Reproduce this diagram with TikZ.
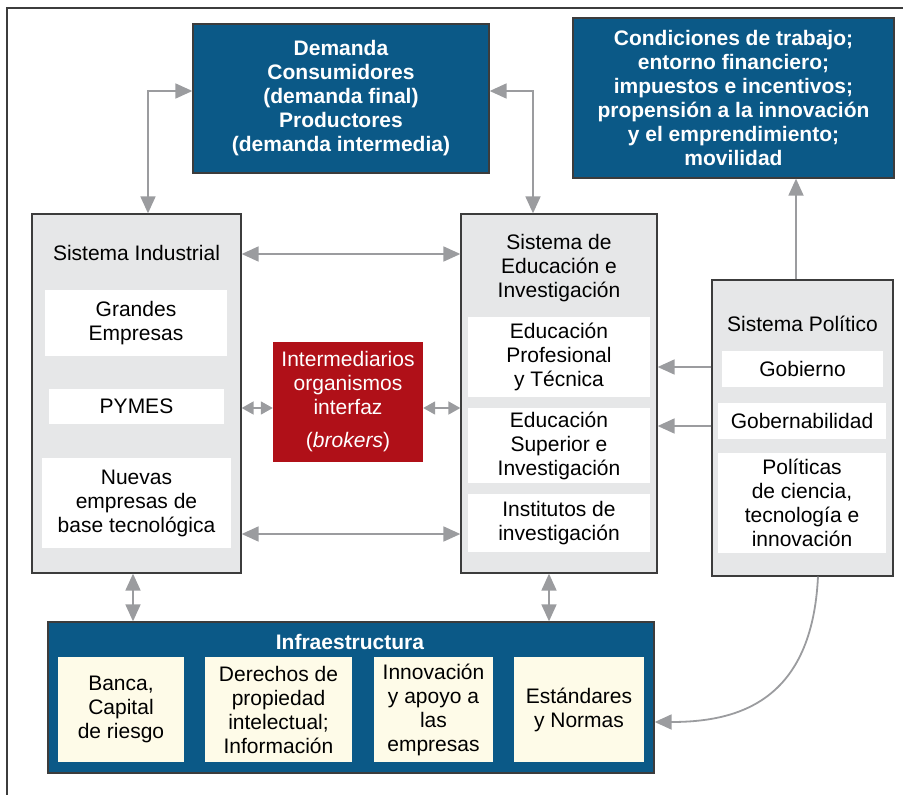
\documentclass[tikz,border=0pt]{standalone}
\usepackage{fontspec}
\setmainfont{Liberation Sans}
\usetikzlibrary{arrows.meta}
\definecolor{dblue}{RGB}{11,89,135}
\definecolor{dred}{RGB}{176,16,24}
\definecolor{sysgray}{RGB}{230,231,232}
\definecolor{cream}{RGB}{254,251,232}
\definecolor{arrc}{RGB}{155,156,159}
\definecolor{bordc}{RGB}{60,60,60}
\begin{document}
\begin{tikzpicture}[x=1pt,y=-1pt,
  every node/.style={font=\fontsize{21}{24}\selectfont, inner sep=0pt, align=center},
  sysbox/.style={draw=bordc, line width=1.3pt, fill=sysgray},
  bluebox/.style={draw=bordc, line width=1.3pt, fill=dblue, text=white, font=\fontsize{21}{24}\selectfont\bfseries},
  redbox/.style={fill=dred, text=white},
  whitebox/.style={fill=white},
  creambox/.style={fill=cream},
  arr/.style={draw=arrc, line width=1.8pt},
  >={Triangle[length=17pt,width=15pt]},
  small/.style={draw=arrc, line width=1.8pt, {Triangle[length=12pt,width=13pt]}-{Triangle[length=12pt,width=13pt]}}
]
\useasboundingbox (0,0) rectangle (903,795);
\draw[bordc, line width=1.3pt] (7,795) -- (7,8) -- (903,8);

% main boxes
\node[bluebox, minimum width=296, minimum height=149] (dem) at (341,98.5)
  {Demanda\\Consumidores\\(demanda final)\\Productores\\(demanda intermedia)};
\node[bluebox, minimum width=321, minimum height=160] (cond) at (733.5,98)
  {Condiciones de trabajo;\\entorno financiero;\\impuestos e incentivos;\\propensión a la innovación\\y el emprendimiento;\\movilidad};
\node[sysbox, minimum width=209, minimum height=359] (ind) at (136.5,393.5) {};
\node[sysbox, minimum width=196, minimum height=359] (edu) at (559,393.5) {};
\node[sysbox, minimum width=181, minimum height=296] (pol) at (802.5,428) {};
\node[redbox, minimum width=150, minimum height=120] (brk) at (348,402)
  {Intermediarios\\organismos\\interfaz\\[9pt](\textit{brokers})};
\node[bluebox, minimum width=606, minimum height=151] (inf) at (351,697.5) {};

% titles
\node (indt) at (136.5,253) {Sistema Industrial};
\node (edut) at (559,268) {Sistema de\\Educación e\\Investigación};
\node (polt) at (802.5,324) {Sistema Político};
\node[text=white, font=\fontsize{21}{24}\selectfont\bfseries] (inft) at (350,642) {Infraestructura};

% inner boxes
\node[whitebox, minimum width=182, minimum height=66] (ge) at (136,323) {Grandes\\Empresas};
\node[whitebox, minimum width=175, minimum height=35] (py) at (136.5,406.5) {PYMES};
\node[whitebox, minimum width=189, minimum height=90] (nu) at (136.5,503) {Nuevas\\empresas de\\base tecnológica};
\node[whitebox, minimum width=182, minimum height=80] (ep) at (559,357) {Educación\\Profesional\\y Técnica};
\node[whitebox, minimum width=182, minimum height=75] (es) at (559,445.5) {Educación\\Superior e\\Investigación};
\node[whitebox, minimum width=182, minimum height=58] (ii) at (559,523) {Institutos de\\investigación};
\node[whitebox, minimum width=161, minimum height=36] (gob) at (802.5,369) {Gobierno};
\node[whitebox, minimum width=168, minimum height=36] (gbn) at (802,421) {Gobernabilidad};
\node[whitebox, minimum width=168, minimum height=100] (pct) at (802,503) {Políticas\\de ciencia,\\tecnología e\\innovación};
\node[creambox, minimum width=126, minimum height=105] (ban) at (121,709.5) {Banca,\\Capital\\de riesgo};
\node[creambox, minimum width=147, minimum height=105] (der) at (278.5,709.5) {Derechos de\\propiedad\\intelectual;\\Información};
\node[creambox, minimum width=119, minimum height=105] (inn) at (433.5,709.5) {Innovación\\y apoyo a\\las\\empresas};
\node[creambox, minimum width=130, minimum height=105] (est) at (579,709.5) {Estándares\\y Normas};

% connectors
\draw[arr,<->] (148,0 |- ind.north) |- (dem.west |- 0,91);
\draw[arr,<->] (dem.east |- 0,91) -| (533,0 |- edu.north);
\draw[arr,<->] (ind.east |- 0,254) -- (edu.west |- 0,254);
\draw[arr,<->] (ind.east |- 0,534) -- (edu.west |- 0,534);
\draw[small] (ind.east |- 0,408) -- (brk.west |- 0,408);
\draw[small] (brk.east |- 0,408) -- (edu.west |- 0,408);
\draw[arr,->] (pol.west |- 0,367) -- (edu.east |- 0,367);
\draw[arr,->] (pol.west |- 0,426) -- (edu.east |- 0,426);
\draw[arr,->] (796,0 |- pol.north) -- (796,0 |- cond.south);
\draw[arr,<->] (133,0 |- ind.south) -- (133,0 |- inf.north);
\draw[arr,<->] (549,0 |- edu.south) -- (549,0 |- inf.north);
\draw[arr,->] (818,0 |- pol.south) .. controls (812,700) and (740,722) .. (inf.east |- 0,722);
\end{tikzpicture}
\end{document}
